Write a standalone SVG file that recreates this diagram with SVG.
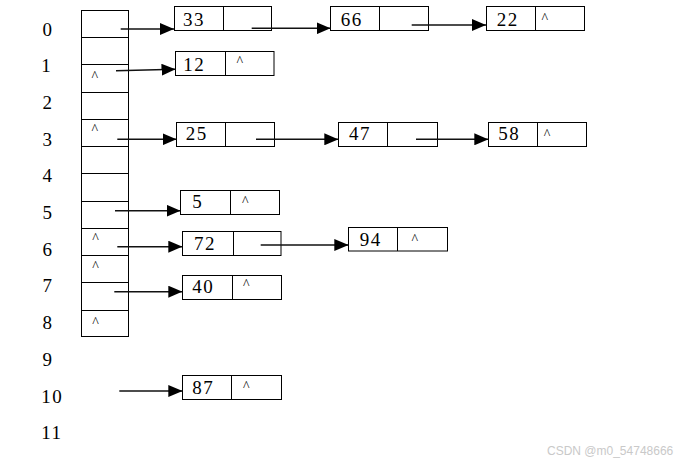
<svg xmlns="http://www.w3.org/2000/svg" width="689" height="464" viewBox="0 0 689 464">
<style>
.bx{fill:none;stroke:#000;stroke-width:1}
.num{font-family:"Liberation Serif","Times New Roman",serif;font-size:19px;letter-spacing:1.5px;fill:#000}
.lbl{font-family:"Liberation Serif","Times New Roman",serif;font-size:19px;letter-spacing:1.5px;fill:#000}
.nil{font-family:"Liberation Serif","Times New Roman",serif;font-size:14px;fill:#000}
.ar{stroke:#111;stroke-width:1.4;fill:none;marker-end:url(#ah)}
.wm{font-family:"Liberation Sans",Arial,sans-serif;font-size:12px;fill:#c9c9c9}
</style>
<defs>
<marker id="ah" markerUnits="userSpaceOnUse" markerWidth="14" markerHeight="12" refX="14" refY="6" orient="auto">
<path d="M0,0 L14,6 L0,12 z" fill="#000"/>
</marker>
</defs>
<rect width="689" height="464" fill="#fff"/>

<g id="labels">
<text class="lbl" x="42.5" y="35.5">0</text>
<text class="lbl" x="41.3" y="72.2">1</text>
<text class="lbl" x="42.5" y="108.9">2</text>
<text class="lbl" x="42.5" y="145.6">3</text>
<text class="lbl" x="42.5" y="182.3">4</text>
<text class="lbl" x="42.5" y="219">5</text>
<text class="lbl" x="42.5" y="255.7">6</text>
<text class="lbl" x="42.5" y="292.4">7</text>
<text class="lbl" x="42.5" y="329.1">8</text>
<text class="lbl" x="42.5" y="365.8">9</text>
<text class="lbl" x="41.3" y="402.5">10</text>
<text class="lbl" x="41.3" y="439.2">11</text>
</g>

<g id="table">
<rect class="bx" x="81.5" y="10.5" width="47" height="326"/>
<path class="bx" d="M81.5 37.5H128.5M81.5 64.5H128.5M81.5 92.5H128.5M81.5 119.5H128.5M81.5 146.5H128.5M81.5 173.5H128.5M81.5 201.5H128.5M81.5 228.5H128.5M81.5 255.5H128.5M81.5 282.5H128.5M81.5 310.5H128.5"/>
<text class="nil" x="91.4" y="81">^</text>
<text class="nil" x="91.4" y="134.3">^</text>
<text class="nil" x="92.2" y="243.3">^</text>
<text class="nil" x="92.2" y="271">^</text>
<text class="nil" x="92.2" y="327.3">^</text>
</g>

<g id="n33"><rect class="bx" x="174.5" y="6.5" width="97" height="24"/><path class="bx" d="M223.5 6.5V30.5"/><text class="num" x="183" y="26">33</text></g>
<g id="n66"><rect class="bx" x="330.5" y="6.5" width="98" height="24"/><path class="bx" d="M379.5 6.5V30.5"/><text class="num" x="340.7" y="26">66</text></g>
<g id="n22"><rect class="bx" x="486.5" y="6.5" width="98" height="24"/><path class="bx" d="M535.5 6.5V30.5"/><text class="num" x="496.7" y="26">22</text><text class="nil" x="541.4" y="22.6">^</text></g>
<g id="n12"><rect class="bx" x="175.5" y="51.5" width="98.5" height="24"/><path class="bx" d="M225.5 51.5V75.5"/><text class="num" x="183.3" y="71">12</text><text class="nil" x="236.4" y="66.3">^</text></g>
<g id="n25"><rect class="bx" x="176.5" y="122.5" width="98" height="24"/><path class="bx" d="M225.5 122.5V146.5"/><text class="num" x="185.7" y="140">25</text></g>
<g id="n47"><rect class="bx" x="338.5" y="122.5" width="99" height="24"/><path class="bx" d="M387.5 122.5V146.5"/><text class="num" x="349" y="140">47</text></g>
<g id="n58"><rect class="bx" x="488.5" y="122.5" width="98" height="24"/><path class="bx" d="M537.5 122.5V146.5"/><text class="num" x="498.3" y="140">58</text><text class="nil" x="543.7" y="139.3">^</text></g>
<g id="n5"><rect class="bx" x="180.5" y="190.5" width="99" height="24"/><path class="bx" d="M230.5 190.5V214.5"/><text class="num" x="192.3" y="208">5</text><text class="nil" x="242" y="206">^</text></g>
<g id="n72"><rect class="bx" x="182.5" y="231.5" width="98.5" height="24"/><path class="bx" d="M233.5 231.5V255.5"/><text class="num" x="194" y="249.5">72</text></g>
<g id="n94"><rect class="bx" x="348.5" y="227.5" width="99" height="23.5"/><path class="bx" d="M397.5 227.5V251"/><text class="num" x="359.7" y="246">94</text><text class="nil" x="411.4" y="244.3">^</text></g>
<g id="n40"><rect class="bx" x="182.5" y="275.5" width="99" height="24"/><path class="bx" d="M232.5 275.5V299.5"/><text class="num" x="192.3" y="292.5">40</text><text class="nil" x="243" y="289.3">^</text></g>
<g id="n87"><rect class="bx" x="182.5" y="375.5" width="99" height="24"/><path class="bx" d="M231.5 375.5V399.5"/><text class="num" x="192.3" y="393.5">87</text><text class="nil" x="243" y="391">^</text></g>

<g id="connectors">
<line class="ar" x1="120.7" y1="29" x2="174" y2="29"/>
<line class="ar" x1="251.7" y1="28.3" x2="330.5" y2="28.3"/>
<line class="ar" x1="411.7" y1="25" x2="486" y2="25"/>
<line class="ar" x1="116" y1="70.7" x2="175.5" y2="69.3"/>
<line class="ar" x1="117.3" y1="139.3" x2="176.5" y2="139.3"/>
<line class="ar" x1="256" y1="139.3" x2="338.3" y2="139.3"/>
<line class="ar" x1="416" y1="139.3" x2="488.3" y2="139.3"/>
<line class="ar" x1="115" y1="210.7" x2="180.5" y2="210.7"/>
<line class="ar" x1="117.3" y1="246.7" x2="182.3" y2="246.7"/>
<line class="ar" x1="260.7" y1="245" x2="348.3" y2="245"/>
<line class="ar" x1="114.3" y1="291.7" x2="182.3" y2="291.7"/>
<line class="ar" x1="119.3" y1="391" x2="182.3" y2="391"/>
</g>

<text class="wm" x="547" y="455">CSDN @m0_54748666</text>
</svg>
